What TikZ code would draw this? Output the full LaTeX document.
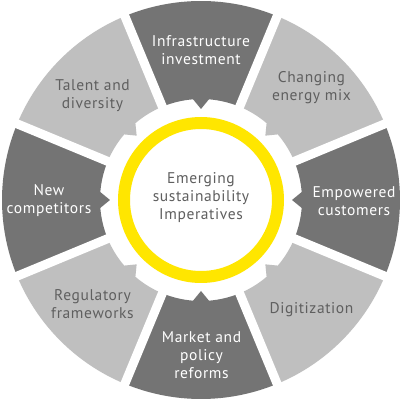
\documentclass[tikz,border=0pt]{standalone}
\usepackage{fontspec}
\setmainfont[LetterSpace=4]{PT Sans}
\definecolor{segdark}{HTML}{747474}
\definecolor{seglight}{HTML}{BFBFBF}
\definecolor{eyyellow}{HTML}{FFE600}
\definecolor{txtgray}{HTML}{5F5F5F}
\begin{document}
\begin{tikzpicture}[x=1pt,y=1pt,
  lab/.style={font=\fontsize{15.5}{18}\selectfont, align=center, inner sep=0pt},
  ondark/.style={lab, text=white},
  onlight/.style={lab, text=txtgray},
  gapline/.style={draw=white, line width=9pt},
  ring/.style={draw=eyyellow, line width=12pt}]
\useasboundingbox[fill=white] (-201,-201) rectangle (201,200);
\foreach \c/\col in {90/segdark,45/seglight,0/segdark,-45/seglight,-90/segdark,-135/seglight,180/segdark,135/seglight}{
  \fill[\col] (\c-22.5:199) arc[start angle=\c-22.5, end angle=\c+22.5, radius=199]
    -- (\c+22.5:101) arc[start angle=\c+22.5, end angle=\c+4.5, radius=101]
    -- (\c:91) -- (\c-4.5:101) arc[start angle=\c-4.5, end angle=\c-22.5, radius=101] -- cycle;
}
\foreach \a in {22.5,67.5,...,337.5}{
  \draw[gapline] (\a:88) -- (\a:206);
}
\draw[ring] (0,0) circle[radius=77];
\node[onlight] (core) at (0,2.5) {Emerging\\sustainability\\Imperatives};
\node[ondark] (infra) at (0,149.5) {Infrastructure\\investment};
\node[onlight] (energy) at (110.5,112.5) {Changing\\energy mix};
\node[ondark] (cust) at (153,-1) {Empowered\\customers};
\node[onlight] (digi) at (110.5,-110) {Digitization};
\node[ondark] (market) at (0.5,-155.5) {Market and\\policy\\reforms};
\node[onlight] (reg) at (-108.5,-104) {Regulatory\\frameworks};
\node[ondark] (comp) at (-152,-0.5) {New\\competitors};
\node[onlight] (talent) at (-108.5,104.5) {Talent and\\diversity};
\end{tikzpicture}
\end{document}
